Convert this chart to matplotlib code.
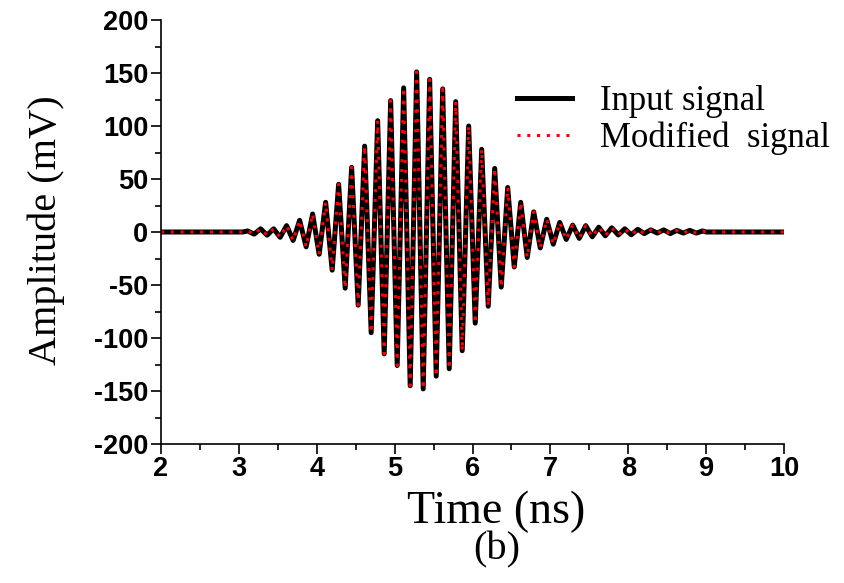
import matplotlib
matplotlib.use('Agg')
import matplotlib.pyplot as plt

# Extremos da forma de onda (tempo em ns, amplitude em mV)
tempo_ns = [2.0, 3.05, 3.112, 3.196, 3.279, 3.363, 3.446, 3.530, 3.613, 3.697,
            3.780, 3.864, 3.947, 4.031, 4.114, 4.198, 4.281, 4.365, 4.448, 4.532,
            4.615, 4.699, 4.782, 4.866, 4.949, 5.033, 5.116, 5.200, 5.283, 5.367,
            5.450, 5.534, 5.617, 5.701, 5.784, 5.868, 5.951, 6.035, 6.118, 6.202,
            6.285, 6.369, 6.452, 6.536, 6.619, 6.703, 6.786, 6.870, 6.953, 7.037,
            7.120, 7.204, 7.287, 7.371, 7.454, 7.538, 7.621, 7.705, 7.788, 7.872,
            7.955, 8.039, 8.122, 8.206, 8.289, 8.373, 8.456, 8.540, 8.623, 8.707,
            8.790, 8.874, 8.957, 9.0, 10.0]

entrada_mv = [0, 0, 1, -2, 3, -3, 3, -5, 6, -8,
              11, -14, 17, -21, 28, -36, 45, -53, 61, -69,
              81, -95, 105, -115, 124, -126, 136, -145, 151, -148,
              144, -136, 135, -129, 123, -112, 100, -86, 78, -70,
              60, -52, 42, -33, 28, -24, 19, -15, 12, -11.5,
              9, -7, 6.5, -6, 6, -4.5, 4.5, -3.6, 4, -2.8,
              3, -2.6, 2.5, -1.5, 2, -1, 2, -1.5, 1.5, -1,
              1.5, -1, 1, 0, 0]

# o sinal modificado coincide com o de entrada na figura
modificado_mv = list(entrada_mv)

x_ticks = [2, 3, 4, 5, 6, 7, 8, 9, 10]
y_ticks = [-200, -150, -100, -50, 0, 50, 100, 150, 200]

serif = 'Liberation Serif'
sans = 'Liberation Sans'
plt.rcParams['axes.unicode_minus'] = False

fig = plt.figure(figsize=(8.44, 5.83), dpi=100)
ax = fig.add_axes([161/844, 1 - 444/583, 623/844, 424/583])

ax.plot(tempo_ns, entrada_mv, color='black', lw=3.6, label='Input signal')
ax.plot(tempo_ns, modificado_mv, color='red', lw=2.2, linestyle=(0, (1, 2.2)),
        label='Modified  signal')

ax.set_xlim(2, 10)
ax.set_ylim(-200, 200)
ax.set_xticks(x_ticks)
ax.set_yticks(y_ticks)
ax.set_xticks([2.5 + i for i in range(8)], minor=True)
ax.set_yticks([-175 + 50 * i for i in range(8)], minor=True)

ax.spines['top'].set_visible(False)
ax.spines['right'].set_visible(False)
for s in ['left', 'bottom']:
    ax.spines[s].set_linewidth(1.2)
ax.tick_params(which='major', direction='out', length=7.5, width=1.2, pad=1.5)
ax.tick_params(which='minor', direction='out', length=4.5, width=1.2)

for lab in ax.get_xticklabels() + ax.get_yticklabels():
    lab.set_fontfamily(sans)
    lab.set_fontweight('bold')
    lab.set_fontsize(19.5)

leg = ax.legend(loc='upper left', bbox_to_anchor=(0.549, 0.88), frameon=False,
                prop={'family': serif, 'size': 25}, handlelength=1.6,
                handletextpad=0.8, labelspacing=0.1, borderaxespad=0)

fig.text(0.588, 1 - 512/583, 'Time (ns)', family=serif, fontsize=33,
         ha='center', va='center')
fig.text(0.589, 1 - 550/583, '(b)', family=serif, fontsize=29,
         ha='center', va='center')
fig.text(0.055, 1 - 230/583, 'Amplitude (mV)', family=serif, fontsize=29,
         ha='center', va='center', rotation=90)

fig.savefig('out.png', dpi=100)
